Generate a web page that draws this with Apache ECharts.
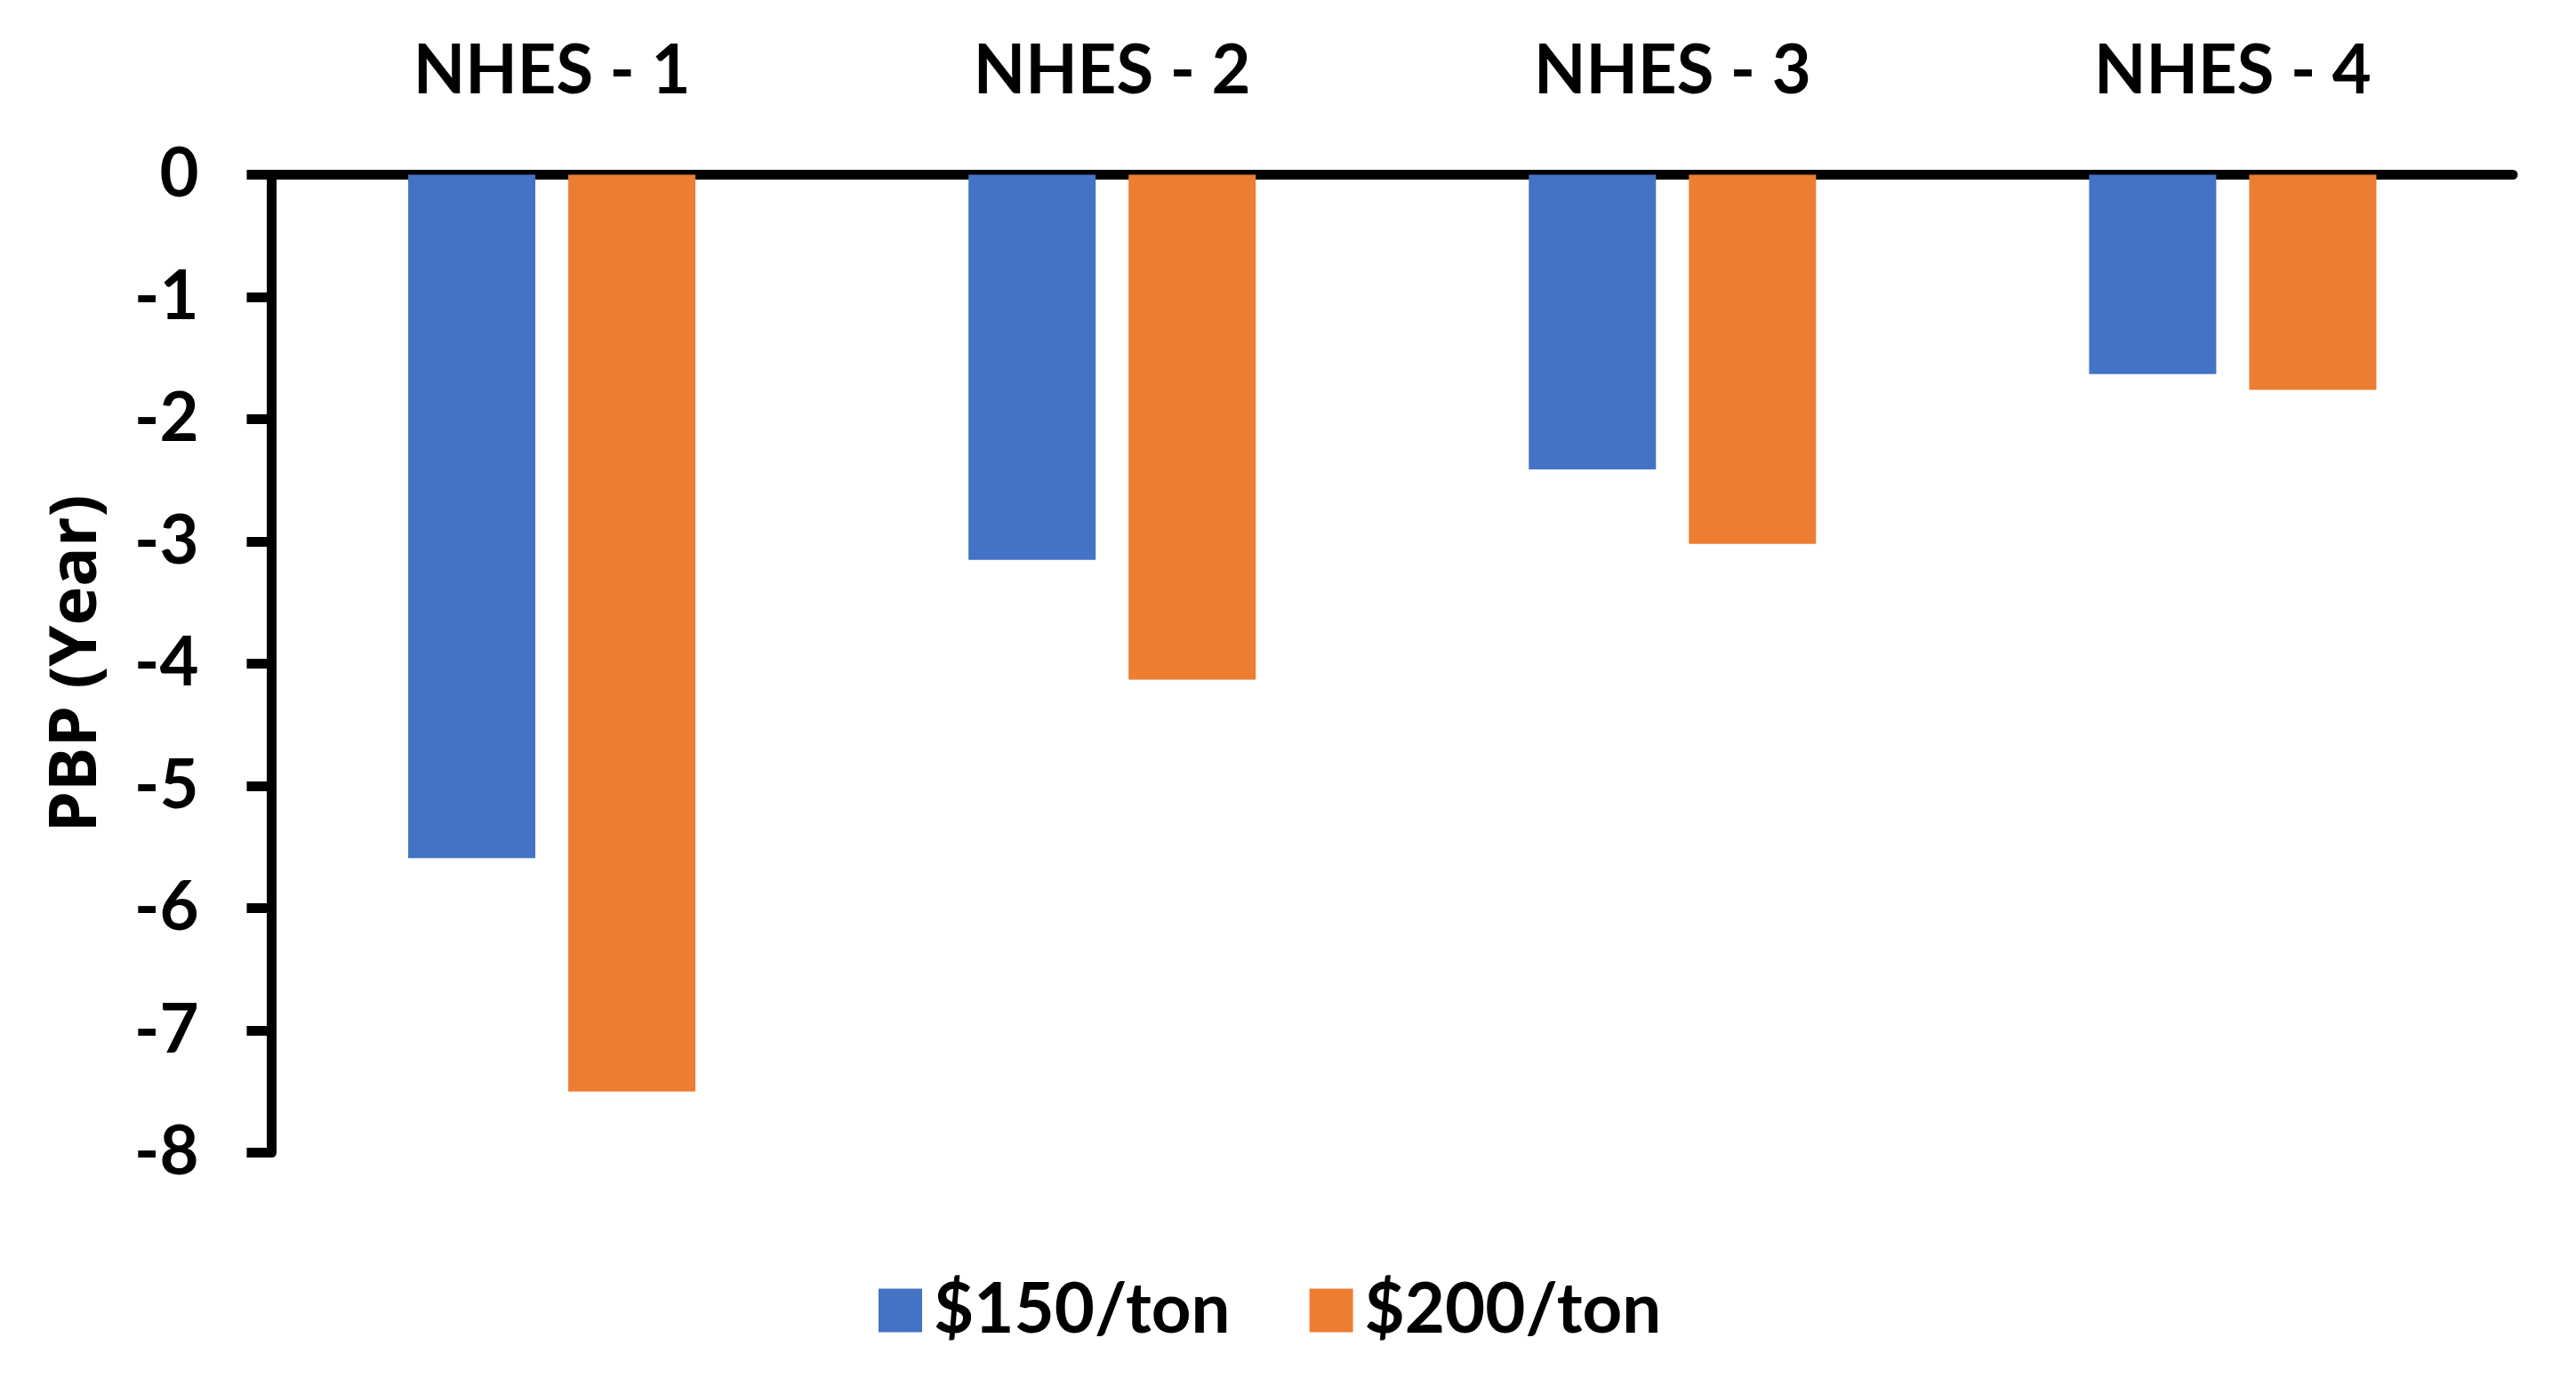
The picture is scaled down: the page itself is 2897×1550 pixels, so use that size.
<!DOCTYPE html>
<html>
<head>
<meta charset="utf-8">
<script src="https://cdn.jsdelivr.net/npm/echarts@6/dist/echarts.min.js"></script>
<style>
html,body{margin:0;padding:0;background:#fff;}
#chart{width:2897px;height:1550px;}
</style>
</head>
<body>
<div id="chart"></div>
<script>
const categories = ['NHES - 1', 'NHES - 2', 'NHES - 3', 'NHES - 4'];
const seriesNames = ['$150/ton', '$200/ton'];
const values150 = [-5.59, -3.15, -2.41, -1.63];
const values200 = [-7.50, -4.13, -3.02, -1.76];
const yTicks = [0, -1, -2, -3, -4, -5, -6, -7, -8];

const chart = echarts.init(document.getElementById('chart'), null, {renderer: 'canvas'});
const labelFont = 'Lato, "Open Sans", sans-serif';
chart.setOption({
  animation: false,
  backgroundColor: '#ffffff',
  grid: {left: 305.5, right: 71, top: 196.5, bottom: 253.5, containLabel: false},
  legend: {
    data: seriesNames,
    left: 983,
    top: 1430,
    itemWidth: 49,
    itemHeight: 49,
    itemGap: 89,
    icon: 'rect',
    textStyle: {fontFamily: labelFont, fontWeight: 'bold', fontSize: 78, color: '#000', padding: [0,0,0,8]}
  },
  xAxis: {
    type: 'category',
    data: categories,
    position: 'top',
    axisLine: {show: true, onZero: true, lineStyle: {color: '#000', width: 11}},
    axisTick: {show: false},
    axisLabel: {fontFamily: labelFont, fontWeight: 'bold', fontSize: 76, color: '#000', margin: 78},
    splitLine: {show: false}
  },
  yAxis: {
    type: 'value',
    min: -8,
    max: 0,
    interval: 1,
    name: 'PBP (Year)',
    nameLocation: 'middle',
    nameRotate: 90,
    nameGap: 182,
    nameTextStyle: {fontFamily: '"Open Sans", sans-serif', fontWeight: 'bold', fontSize: 74, color: '#000'},
    axisLine: {show: true, lineStyle: {color: '#000', width: 11}},
    axisTick: {show: true, inside: false, length: 28, lineStyle: {color: '#000', width: 11}},
    axisLabel: {fontFamily: labelFont, fontWeight: 'bold', fontSize: 76, color: '#000', margin: 82,
      formatter: v => yTicks.includes(v) ? String(v) : ''},
    splitLine: {show: false}
  },
  series: [
    {name: seriesNames[0], type: 'bar', data: values150, barWidth: 143, barGap: '25.9%',
     itemStyle: {color: '#4472C4'}},
    {name: seriesNames[1], type: 'bar', data: values200, barWidth: 143, barGap: '25.9%',
     itemStyle: {color: '#ED7D31'}}
  ]
});
</script>
</body>
</html>
